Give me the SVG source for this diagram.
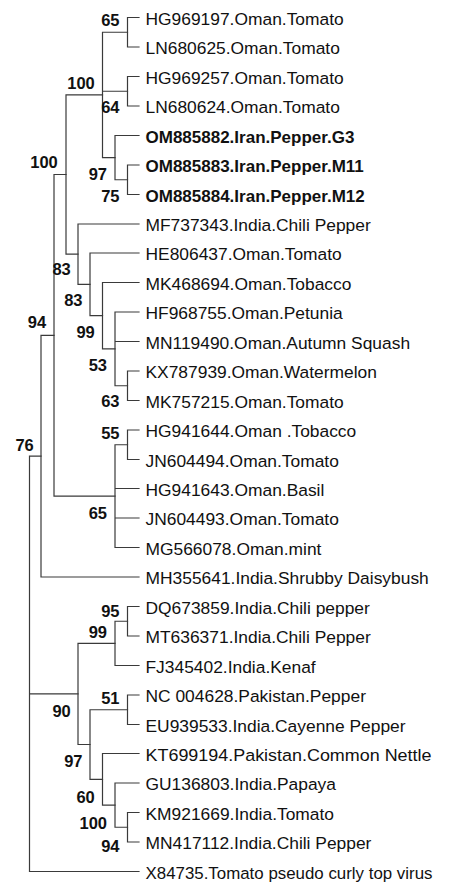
<svg xmlns="http://www.w3.org/2000/svg" width="451" height="885" viewBox="0 0 451 885">
<style>
.edge{fill:none;stroke:#3a3a3a;stroke-width:1.2;stroke-linecap:square}
.leaf{font-family:"Liberation Sans",Arial,sans-serif;font-size:17.4px;fill:#111}
.leaf.b{font-weight:bold;font-size:17px}
.bs{font-family:"Liberation Sans",Arial,sans-serif;font-size:16.5px;font-weight:bold;fill:#111;text-anchor:end}
</style>
<rect width="451" height="885" fill="#fff"/>
<g id="connectors" class="edge">
<path d="M127.5 17.5V47M127.5 17.5H139M127.5 47H139"/>
<path d="M127.5 76.5V106M127.5 76.5H139M127.5 106H139"/>
<path d="M127.5 165V194.5M127.5 165H139M127.5 194.5H139"/>
<path d="M115 135.5V179.75M115 135.5H139M115 179.75H127.5"/>
<path d="M102.5 32.25V157.6M102.5 32.25H127.5M102.5 91.25H127.5M102.5 157.6H115"/>
<path d="M127.5 371V400.5M127.5 371H139M127.5 400.5H139"/>
<path d="M115 312V385.75M115 312H139M115 341.5H139M115 385.75H127.5"/>
<path d="M102.5 282.5V348.9M102.5 282.5H139M102.5 348.9H115"/>
<path d="M90 253V315.7M90 253H139M90 315.7H102.5"/>
<path d="M78 224V284.35M78 224H139M78 284.35H90"/>
<path d="M66 94.9V254.2M66 94.9H102.5M66 254.2H78"/>
<path d="M127.5 430V459.5M127.5 430H139M127.5 459.5H139"/>
<path d="M115 444.75V547.5M115 444.75H127.5M115 488.5H139M115 518H139M115 547.5H139"/>
<path d="M54 174.5V496.1M54 174.5H66M54 496.1H115"/>
<path d="M41 335.3V577M41 335.3H54M41 577H139"/>
<path d="M127.5 606.5V636M127.5 606.5H139M127.5 636H139"/>
<path d="M115 621.25V665.5M115 621.25H127.5M115 665.5H139"/>
<path d="M127.5 695V724.5M127.5 695H139M127.5 724.5H139"/>
<path d="M127.5 812.5V842M127.5 812.5H139M127.5 842H139"/>
<path d="M115 783V827.25M115 783H139M115 827.25H127.5"/>
<path d="M102.5 753.5V805.1M102.5 753.5H139M102.5 805.1H115"/>
<path d="M90 709.75V779.3M90 709.75H127.5M90 779.3H102.5"/>
<path d="M78 643.4V744.5M78 643.4H115M78 744.5H90"/>
<path d="M29.5 456.15V871.5M29.5 456.15H41M29.5 693.95H78M29.5 871.5H139"/>
</g>
<g id="leaf-HG969197"><text class="leaf" x="145.5" y="24.5">HG969197.Oman.Tomato</text></g>
<g id="leaf-LN680625"><text class="leaf" x="145.5" y="54">LN680625.Oman.Tomato</text></g>
<g id="leaf-HG969257"><text class="leaf" x="145.5" y="83.5">HG969257.Oman.Tomato</text></g>
<g id="leaf-LN680624"><text class="leaf" x="145.5" y="113">LN680624.Oman.Tomato</text></g>
<g id="leaf-OM885882"><text class="leaf b" x="145.5" y="142.5">OM885882.Iran.Pepper.G3</text></g>
<g id="leaf-OM885883"><text class="leaf b" x="145.5" y="172">OM885883.Iran.Pepper.M11</text></g>
<g id="leaf-OM885884"><text class="leaf b" x="145.5" y="201.5">OM885884.Iran.Pepper.M12</text></g>
<g id="leaf-MF737343"><text class="leaf" x="145.5" y="231">MF737343.India.Chili Pepper</text></g>
<g id="leaf-HE806437"><text class="leaf" x="145.5" y="260">HE806437.Oman.Tomato</text></g>
<g id="leaf-MK468694"><text class="leaf" x="145.5" y="289.5">MK468694.Oman.Tobacco</text></g>
<g id="leaf-HF968755"><text class="leaf" x="145.5" y="319">HF968755.Oman.Petunia</text></g>
<g id="leaf-MN119490"><text class="leaf" x="145.5" y="348.5">MN119490.Oman.Autumn Squash</text></g>
<g id="leaf-KX787939"><text class="leaf" x="145.5" y="378">KX787939.Oman.Watermelon</text></g>
<g id="leaf-MK757215"><text class="leaf" x="145.5" y="407.5">MK757215.Oman.Tomato</text></g>
<g id="leaf-HG941644"><text class="leaf" x="145.5" y="437">HG941644.Oman .Tobacco</text></g>
<g id="leaf-JN604494"><text class="leaf" x="145.5" y="466.5">JN604494.Oman.Tomato</text></g>
<g id="leaf-HG941643"><text class="leaf" x="145.5" y="495.5">HG941643.Oman.Basil</text></g>
<g id="leaf-JN604493"><text class="leaf" x="145.5" y="525">JN604493.Oman.Tomato</text></g>
<g id="leaf-MG566078"><text class="leaf" x="145.5" y="554.5">MG566078.Oman.mint</text></g>
<g id="leaf-MH355641"><text class="leaf" x="145.5" y="584">MH355641.India.Shrubby Daisybush</text></g>
<g id="leaf-DQ673859"><text class="leaf" x="145.5" y="613.5">DQ673859.India.Chili pepper</text></g>
<g id="leaf-MT636371"><text class="leaf" x="145.5" y="643">MT636371.India.Chili Pepper</text></g>
<g id="leaf-FJ345402"><text class="leaf" x="145.5" y="672.5">FJ345402.India.Kenaf</text></g>
<g id="leaf-NC004628"><text class="leaf" x="145.5" y="702">NC 004628.Pakistan.Pepper</text></g>
<g id="leaf-EU939533"><text class="leaf" x="145.5" y="731.5">EU939533.India.Cayenne Pepper</text></g>
<g id="leaf-KT699194"><text class="leaf" x="145.5" y="760.5" textLength="286" lengthAdjust="spacingAndGlyphs">KT699194.Pakistan.Common Nettle</text></g>
<g id="leaf-GU136803"><text class="leaf" x="145.5" y="790">GU136803.India.Papaya</text></g>
<g id="leaf-KM921669"><text class="leaf" x="145.5" y="819.5">KM921669.India.Tomato</text></g>
<g id="leaf-MN417112"><text class="leaf" x="145.5" y="849">MN417112.India.Chili Pepper</text></g>
<g id="leaf-X84735"><text class="leaf" x="145.5" y="878.5" textLength="287" lengthAdjust="spacingAndGlyphs">X84735.Tomato pseudo curly top virus</text></g>
<g id="node-n1"><text class="bs" x="119.5" y="26">65</text></g>
<g id="node-n2"><text class="bs" x="119.5" y="113">64</text></g>
<g id="node-n3"><text class="bs" x="119.5" y="201.7">75</text></g>
<g id="node-n4"><text class="bs" x="107" y="180">97</text></g>
<g id="node-n5"><text class="bs" x="94.8" y="89">100</text></g>
<g id="node-n6"><text class="bs" x="57.8" y="167.5">100</text></g>
<g id="node-n7"><text class="bs" x="70.8" y="275">83</text></g>
<g id="node-n8"><text class="bs" x="82.5" y="306">83</text></g>
<g id="node-n9"><text class="bs" x="46.2" y="328">94</text></g>
<g id="node-n10"><text class="bs" x="94.8" y="338">99</text></g>
<g id="node-n11"><text class="bs" x="107" y="371">53</text></g>
<g id="node-n12"><text class="bs" x="119.5" y="407">63</text></g>
<g id="node-n13"><text class="bs" x="119.5" y="439">55</text></g>
<g id="node-n14"><text class="bs" x="33.8" y="450.7">76</text></g>
<g id="node-n15"><text class="bs" x="107" y="519">65</text></g>
<g id="node-n16"><text class="bs" x="119.5" y="616.7">95</text></g>
<g id="node-n17"><text class="bs" x="107" y="637.7">99</text></g>
<g id="node-n18"><text class="bs" x="119.5" y="704.3">51</text></g>
<g id="node-n19"><text class="bs" x="70.8" y="717.3">90</text></g>
<g id="node-n20"><text class="bs" x="82.5" y="767">97</text></g>
<g id="node-n21"><text class="bs" x="94.8" y="803">60</text></g>
<g id="node-n22"><text class="bs" x="107" y="829">100</text></g>
<g id="node-n23"><text class="bs" x="119.5" y="851.7">94</text></g>
</svg>
